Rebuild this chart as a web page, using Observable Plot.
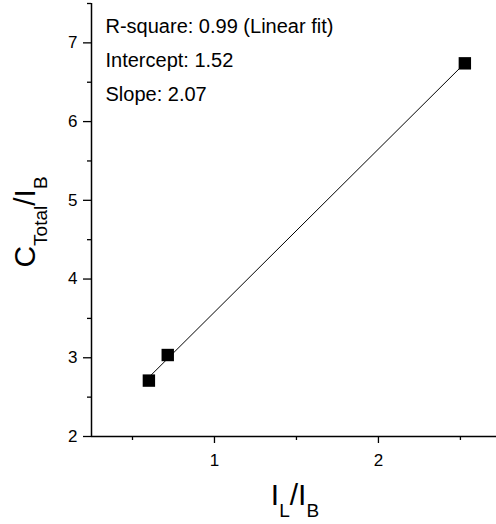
<!DOCTYPE html>
<html><head><meta charset="utf-8">
<script src="https://cdn.jsdelivr.net/npm/d3@7"></script>
<script src="https://cdn.jsdelivr.net/npm/@observablehq/plot@0.6"></script>
<style>body{margin:0;background:#fff} #chart{width:496px;height:524px}</style>
</head><body><div id="chart"></div>
<script>
// Data
const ratioLB = [0.6, 0.715, 2.527];      // I_L / I_B
const cTotalB = [2.71, 3.035, 6.74];      // C_Total / I_B
const yMajorTicks = [2, 3, 4, 5, 6, 7];
const yMinorTicks = [2.5, 3.5, 4.5, 5.5, 6.5, 7.5];
const xMajorTicks = [1, 2];
const xMinorTicks = [0.5, 1.5, 2.5];
const fitStats = ["R-square: 0.99 (Linear fit)", "Intercept: 1.52", "Slope: 2.07"];
const xLabelParts = [["I", false], ["L", true], ["/I", false], ["B", true]];
const yLabelParts = [["C", false], ["Total", true], ["/I", false], ["B", true]];
const xDomain = [0.25, 2.72];
const yDomain = [2, 7.5];

const data = ratioLB.map((x, i) => ({x, y: cTotalB[i]}));

function labelMark(parts, place) {
  return (index, scales, values, dim) => {
    const g = d3.create("svg:g");
    const [x, y, rot] = place(dim);
    const t = g.append("text")
      .attr("transform", `translate(${x},${y}) rotate(${rot})`)
      .attr("text-anchor", "middle")
      .attr("font-size", 30)
      .attr("fill", "black");
    let shifted = false;
    for (const [s, sub] of parts) {
      const sp = t.append("tspan").text(s).attr("font-size", sub ? 19 : 30);
      if (sub && !shifted) { sp.attr("dy", 12); shifted = true; }
      else if (!sub && shifted) { sp.attr("dy", -12); shifted = false; }
    }
    return g.node();
  };
}

const fmt = d3.format("d");
const chart = Plot.plot({
  width: 496, height: 524,
  marginLeft: 91, marginRight: 0, marginTop: 3, marginBottom: 88,
  style: {fontFamily: "'Liberation Sans', Arial, sans-serif", background: "white", color: "black"},
  x: {domain: xDomain},
  y: {domain: yDomain},
  marks: [
    Plot.axisY({ticks: yMajorTicks, tickFormat: fmt, tickSize: 8, tickPadding: 6, fontSize: 17, label: null, strokeWidth: 1.3}),
    Plot.axisY({ticks: yMinorTicks, tickSize: 4, text: null, label: null, strokeWidth: 1.3}),
    Plot.axisX({ticks: xMajorTicks, tickFormat: fmt, tickSize: 7, tickPadding: 10, fontSize: 17, label: null, strokeWidth: 1.3}),
    Plot.axisX({ticks: xMinorTicks, tickSize: 4, text: null, label: null, strokeWidth: 1.3}),
    Plot.ruleX([xDomain[0]], {strokeWidth: 1.5}),
    Plot.ruleY([yDomain[0]], {strokeWidth: 1.5}),
    Plot.linearRegressionY(data, {x: "x", y: "y", ci: 0, stroke: "black", strokeWidth: 1}),
    Plot.dot(data, {x: "x", y: "y", symbol: "square", r: 7, fill: "black", stroke: null}),
    Plot.text([fitStats.join("\n")], {text: d => d, frameAnchor: "top-left", textAnchor: "start", lineAnchor: "top", dx: 14, dy: 6, fontSize: 20, lineHeight: 1.68, fill: "black"}),
    labelMark(xLabelParts, dim => [(dim.marginLeft + dim.width - dim.marginRight) / 2 + 1.5, dim.height - 19, 0]),
    labelMark(yLabelParts, dim => [35, (dim.marginTop + dim.height - dim.marginBottom) / 2 + 2.5, -90])
  ]
});
document.getElementById("chart").appendChild(chart);
</script>
</body></html>
